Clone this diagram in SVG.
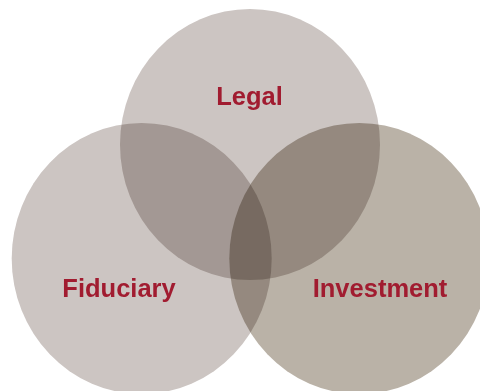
<svg xmlns="http://www.w3.org/2000/svg" width="480" height="391" viewBox="0 0 480 391">
  <style>
    .c { mix-blend-mode: multiply; }
    .lbl { font-family: "Liberation Sans", Arial, sans-serif; font-weight: bold; font-size: 25.5px; fill: #a11c30; text-anchor: middle; }
  </style>
  <rect width="480" height="391" fill="#ffffff"/>
  <g style="isolation:isolate">
    <g id="legal">
      <ellipse class="c" cx="250" cy="144.5" rx="130" ry="135.5" fill="#ccc5c2"/>
    </g>
    <g id="fiduciary">
      <ellipse class="c" cx="141.7" cy="258.5" rx="130" ry="135.5" fill="#ccc5c2"/>
    </g>
    <g id="investment">
      <ellipse class="c" cx="359.3" cy="258.5" rx="130" ry="135.5" fill="#bab2a7"/>
    </g>
  </g>
  <g id="labels">
    <text class="lbl" x="249.5" y="105">Legal</text>
    <text class="lbl" x="119" y="297">Fiduciary</text>
    <text class="lbl" x="380" y="297">Investment</text>
  </g>
</svg>
